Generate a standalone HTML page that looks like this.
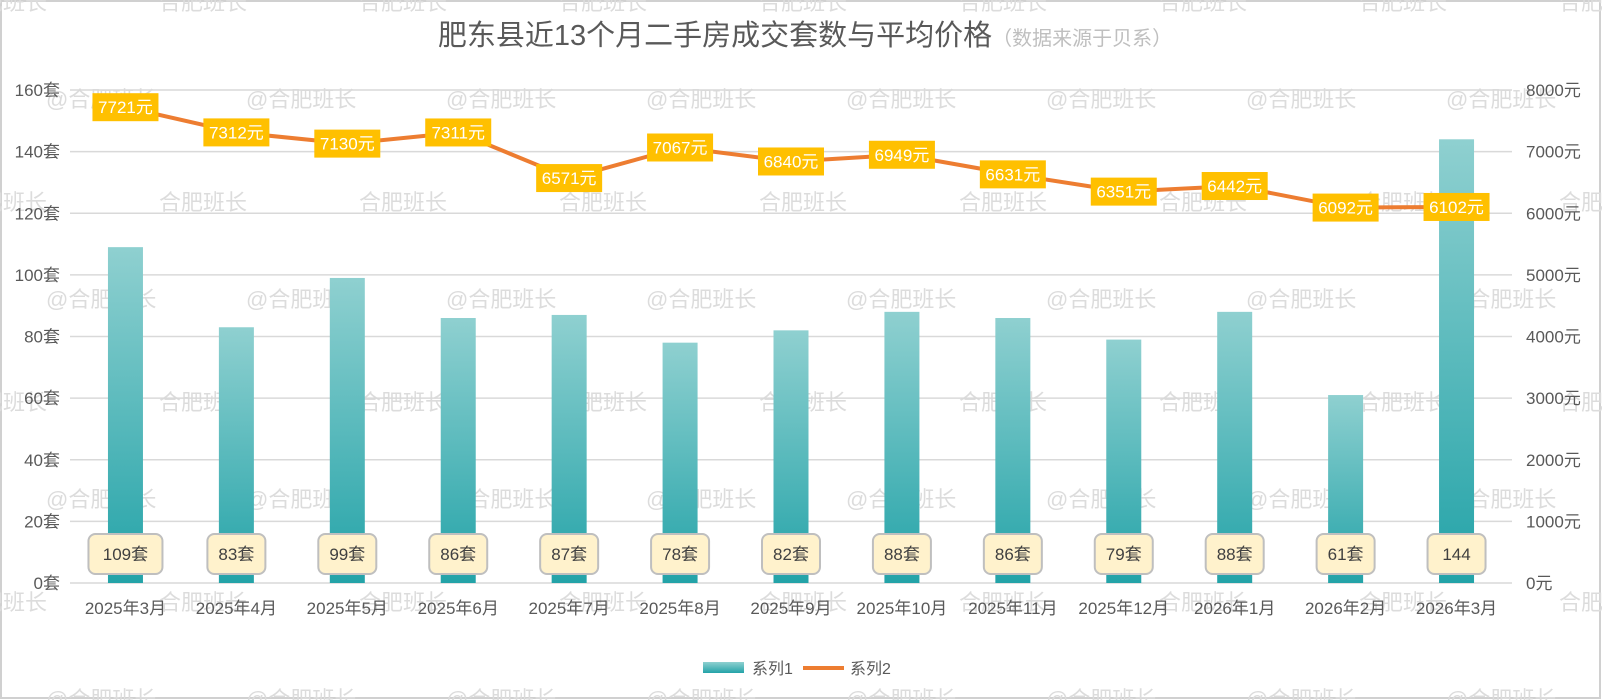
<!DOCTYPE html>
<html><head><meta charset="utf-8">
<style>
html,body{margin:0;padding:0;background:#fff;}
svg{display:block;font-family:"Liberation Sans","Noto Sans CJK SC",sans-serif;}
</style></head>
<body>
<svg id="chart" width="1602" height="700" viewBox="0 0 1602 700" xmlns="http://www.w3.org/2000/svg">
<defs>
<linearGradient id="barGrad" x1="0" y1="0" x2="0" y2="1">
<stop offset="0" stop-color="#8fd0d0"/><stop offset="1" stop-color="#23a3a8"/>
</linearGradient>
</defs>
<rect x="1" y="1" width="1599" height="697" fill="#fff" stroke="#d0d0d0" stroke-width="2"/>
<g id="wm"></g>
<text x="805" y="45" font-size="29" fill="#595959" text-anchor="middle">肥东县近13个月二手房成交套数与平均价格<tspan font-size="20" fill="#bfbfbf">（数据来源于贝系）</tspan></text>
<g id="grid"></g>
<g id="bars"></g>
<g id="line"></g>
<g id="axes"></g>
<g>
<rect x="703" y="662" width="41" height="11" fill="url(#barGrad)"/>
<text x="752" y="674" font-size="16" fill="#595959">系列1</text>
<line x1="803" y1="668" x2="844" y2="668" stroke="#ed7d31" stroke-width="4"/>
<text x="850" y="674" font-size="16" fill="#595959">系列2</text>
</g>
</svg>
<script>
const categories=["2025年3月","2025年4月","2025年5月","2025年6月","2025年7月","2025年8月","2025年9月","2025年10月","2025年11月","2025年12月","2026年1月","2026年2月","2026年3月"];
const counts=[109,83,99,86,87,78,82,88,86,79,88,61,144];
const prices=[7721,7312,7130,7311,6571,7067,6840,6949,6631,6351,6442,6092,6102];
const leftTicks=[0,20,40,60,80,100,120,140,160];
const rightTicks=[0,1000,2000,3000,4000,5000,6000,7000,8000];
const countLabels=["109套","83套","99套","86套","87套","78套","82套","88套","86套","79套","88套","61套","144"];

const NS="http://www.w3.org/2000/svg";
const X0=70,X1=1512,Y0=583,Y1=90;
const step=(X1-X0)/categories.length;
const xc=i=>X0+step*(i+0.5);
const yL=v=>Y0-(v/160)*(Y0-Y1);
const yR=v=>Y0-(v/8000)*(Y0-Y1);
function mk(tag,attrs,parent,text){const e=document.createElementNS(NS,tag);for(const k in attrs)e.setAttribute(k,attrs[k]);if(text!==undefined)e.textContent=text;parent.appendChild(e);return e;}

const wm=document.getElementById('wm');
for(let r=0;r<4;r++){for(let c=0;c<9;c++){
 const t=mk('text',{x:46+c*200,y:107+r*200,'font-size':22,fill:'#dcdcdc'},wm,'@合肥班长');
 
 
 const t2=mk('text',{x:-41+c*200,y:10+r*200,'font-size':22,fill:'#dcdcdc'},wm,'合肥班长');
 
 
}}

const grid=document.getElementById('grid'),axes=document.getElementById('axes');
leftTicks.forEach((v,i)=>{
 const y=yL(v);
 const l=mk('line',{x1:X0,x2:X1,y1:y,y2:y,stroke:'#d9d9d9','stroke-width':1.5},grid);
 
 
 const t=mk('text',{x:60,y:y+6,'font-size':17,fill:'#595959','text-anchor':'end'},axes,v+'套');
 
 
 const t2=mk('text',{x:1526,y:yR(rightTicks[i])+6,'font-size':17,fill:'#595959'},axes,rightTicks[i]+'元');
 
 
});
categories.forEach((c,i)=>{
 const t=mk('text',{x:xc(i),y:614,'font-size':17,fill:'#595959','text-anchor':'middle'},axes,c);
 
 
});

const bars=document.getElementById('bars');
counts.forEach((v,i)=>{
 const y=yL(v);
 const b=mk('rect',{x:xc(i)-17.5,y:y,width:35,height:Y0-y,fill:'url(#barGrad)'},bars);
 
 
});
counts.forEach((v,i)=>{
 const lab=countLabels[i];
 const w=lab.length>=4?74:58;
 const r=mk('rect',{x:xc(i)-w/2,y:534,width:w,height:40,rx:7,fill:'#fff2cc',stroke:'#bfbfbf','stroke-width':2},bars);
 
 
 const t=mk('text',{x:xc(i),y:560,'font-size':17,fill:'#404040','text-anchor':'middle'},bars,lab);
 
 
});

const line=document.getElementById('line');
const pts=prices.map((v,i)=>xc(i)+','+yR(v)).join(' ');
const pl=mk('polyline',{points:pts,fill:'none',stroke:'#ed7d31','stroke-width':4,'stroke-linejoin':'round','stroke-linecap':'round'},line);


prices.forEach((v,i)=>{
 const y=yR(v);
 const r=mk('rect',{x:xc(i)-33,y:y-14,width:66,height:28,fill:'#ffc000'},line);
 
 
 const t=mk('text',{x:xc(i),y:y+6,'font-size':17,fill:'#fff','text-anchor':'middle'},line,v+'元');
 
 
});
</script>
</body></html>
